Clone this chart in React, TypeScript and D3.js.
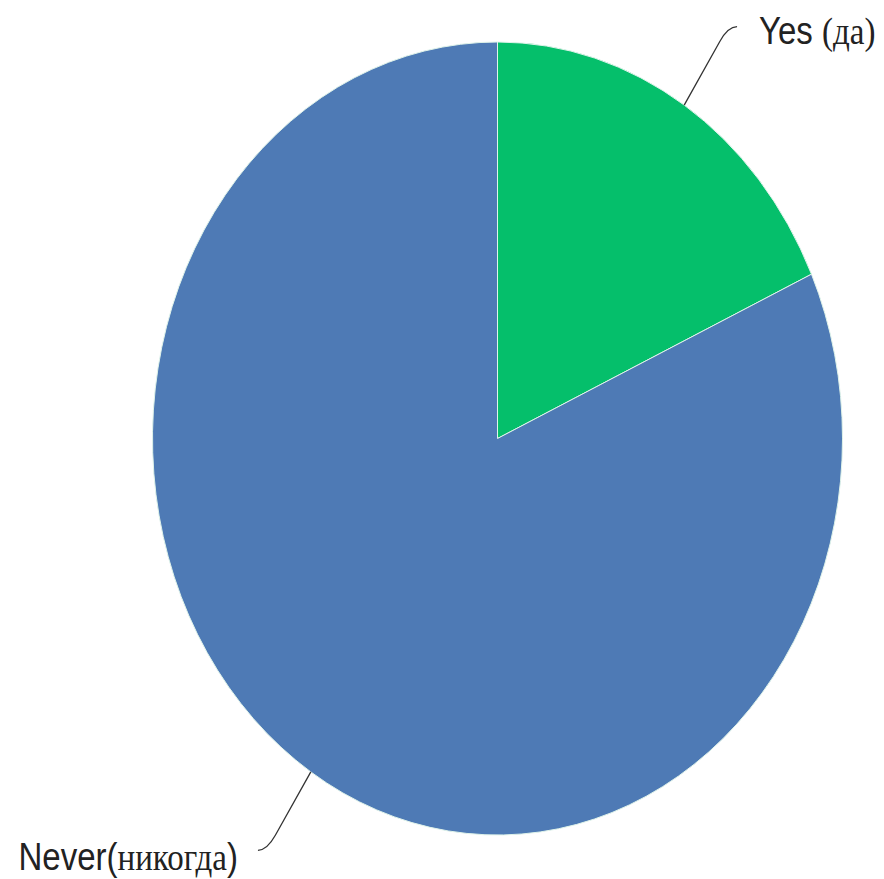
import React from "react";
import * as d3 from "d3";

const categories = ["Yes", "Never"];
const labelLatin = ["Yes ", "Never("];
const labelCyr = ["(да)", "никогда"];
const labelTail = ["", ")"];
const values = [18.2, 81.8];
const colors = ["#05bf6b", "#4e7ab5"];

const W = 884;
const H = 879;
const cx = 497.5;
const cy = 438.5;
const R = 345;
const ky = 396.5 / 345;

export default function App() {
  const arcs = d3.pie<number>().sort(null).value((d) => d)(values);
  const arc = d3.arc<d3.PieArcDatum<number>>().innerRadius(0).outerRadius(R);
  const pt = (a: number, r: number): [number, number] => [r * Math.sin(a), -r * Math.cos(a)];

  return (
    <svg
      width={W}
      height={H}
      style={{ position: "absolute", left: 0, top: 0, display: "block", background: "#fff" }}
    >
      <g transform={`translate(${cx},${cy}) scale(1,${ky})`}>
        {arcs.map((a, i) => (
          <path
            key={categories[i]}
            d={arc(a) || ""}
            fill={colors[i]}
            stroke="#dff3ea"
            strokeWidth={1}
            vectorEffect="non-scaling-stroke"
          />
        ))}
        {arcs.map((a, i) => {
          const mid = (a.startAngle + a.endAngle) / 2;
          const sign = Math.sin(mid) >= 0 ? 1 : -1;
          const p0 = pt(mid, R);
          const p1 = pt(mid, R * 1.19);
          const p2 = pt(mid, R * 1.235);
          const end: [number, number] = [p2[0] + sign * 9, p2[1]];
          const tx = end[0] + sign * (sign > 0 ? 22 : 20);
          const ty = end[1] + (sign > 0 ? 15 : 17);
          return (
            <g key={"lbl" + categories[i]}>
              <path
                d={`M${p0[0]},${p0[1]} L${p1[0]},${p1[1]} Q${p2[0]},${p2[1]} ${end[0]},${end[1]}`}
                fill="none"
                stroke="#333"
                strokeWidth={1.3}
                vectorEffect="non-scaling-stroke"
              />
              <text
                x={tx}
                y={ty}
                textAnchor={sign > 0 ? "start" : "end"}
                fill="#222"
                fontSize={33}
                fontFamily="'Liberation Sans', Arial, sans-serif"
              >
                <tspan>{labelLatin[i]}</tspan>
                <tspan fontFamily="'Liberation Serif', 'Times New Roman', serif">{labelCyr[i]}</tspan>
                <tspan>{labelTail[i]}</tspan>
              </text>
            </g>
          );
        })}
      </g>
    </svg>
  );
}
